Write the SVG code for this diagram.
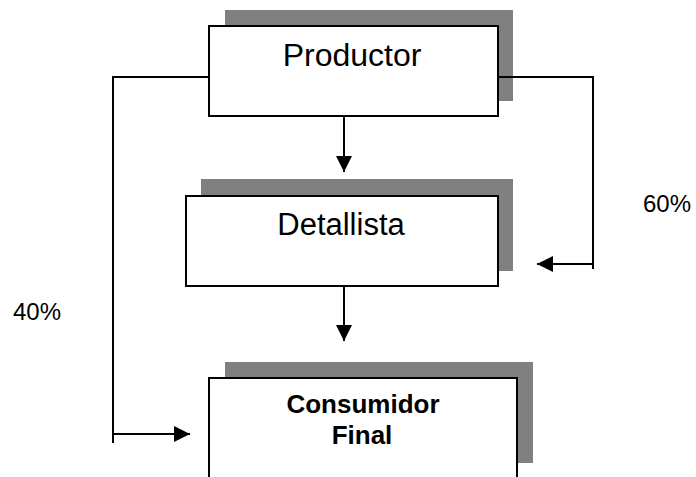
<svg xmlns="http://www.w3.org/2000/svg" width="696" height="477" viewBox="0 0 696 477">
<style>
.shadow{fill:#808080;stroke:none}
.box{fill:#fff;stroke:#000;stroke-width:2}
.lbl{font-family:"Liberation Sans",Arial,sans-serif;fill:#000;text-anchor:middle}
.pct{font-family:"Liberation Sans",Arial,sans-serif;fill:#000;font-size:24px}
.conn{fill:none;stroke:#000;stroke-width:2}
</style>
<defs>
<marker id="ah" viewBox="0 0 10 10" refX="10" refY="5" markerWidth="16" markerHeight="16" markerUnits="userSpaceOnUse" orient="auto">
<path d="M0,0 L10,5 L0,10 Z" fill="#000"/>
</marker>
</defs>
<rect x="0" y="0" width="696" height="477" fill="#fff"/>
<g id="productor">
<rect class="shadow" x="225" y="10" width="288" height="91"/>
<rect class="box" x="209" y="26" width="289" height="90"/>
<text class="lbl" x="352" y="66" font-size="32">Productor</text>
</g>
<g id="detallista">
<rect class="shadow" x="201" y="179" width="312" height="92"/>
<rect class="box" x="186" y="196" width="312" height="90"/>
<text class="lbl" x="341" y="235" font-size="31">Detallista</text>
</g>
<g id="consumidor">
<rect class="shadow" x="225" y="362" width="308" height="101"/>
<rect class="box" x="209" y="378" width="308" height="110"/>
<text class="lbl" x="363" y="413" font-size="26" font-weight="bold">Consumidor</text>
<text class="lbl" x="362" y="444" font-size="26" font-weight="bold">Final</text>
</g>
<g id="connectors">
<line class="conn" x1="344" y1="116" x2="344" y2="172" marker-end="url(#ah)"/>
<line class="conn" x1="344" y1="286" x2="344" y2="341" marker-end="url(#ah)"/>
<polyline class="conn" points="498,77 593,77 593,269"/>
<line class="conn" x1="593" y1="264" x2="537" y2="264" marker-end="url(#ah)"/>
<polyline class="conn" points="209,77 113,77 113,443"/>
<line class="conn" x1="113" y1="434" x2="190" y2="434" marker-end="url(#ah)"/>
</g>
<g id="labels">
<text class="pct" x="643" y="212">60%</text>
<text class="pct" x="13" y="320">40%</text>
</g>
</svg>
